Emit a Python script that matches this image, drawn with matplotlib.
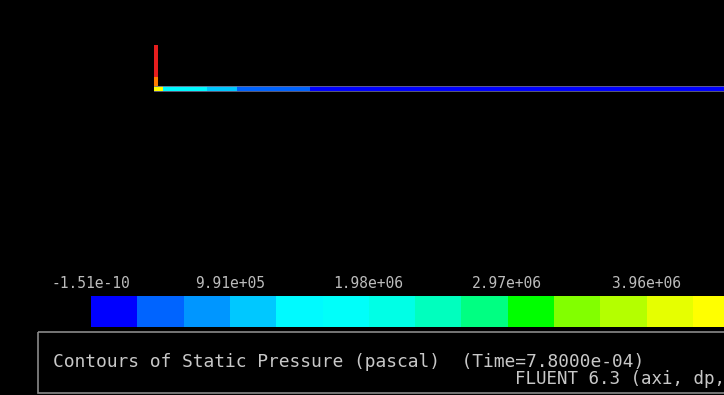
import numpy as np
import matplotlib
matplotlib.use('Agg')
import matplotlib.pyplot as plt
from matplotlib.colors import ListedColormap, BoundaryNorm
from matplotlib.patches import Rectangle

# --- Fluent band colours (20 levels, blue -> red) ---
band_rgb = [
    (0, 0, 255), (0, 100, 255), (0, 150, 255), (0, 200, 255), (0, 250, 255),
    (0, 255, 250), (0, 255, 230), (0, 255, 190), (0, 255, 130), (0, 255, 0),
    (130, 255, 0), (180, 255, 0), (230, 255, 0), (255, 255, 0), (255, 215, 0),
    (255, 170, 0), (255, 125, 0), (255, 80, 0), (255, 40, 0), (230, 30, 30),
]
p_min = 0.0
band_width = 9.91e5 / 3
tick_values = [0.0, 9.91e5, 1.98e6, 2.97e6, 3.96e6]
tick_labels = ['-1.51e-10', '9.91e+05', '1.98e+06', '2.97e+06', '3.96e+06']

# --- pipe geometry (corner at 0) and pressures ---
pipe_x = [-1.5, 8, 52, 82, 155, 569]
pipe_p = [4.45e6, 1.49e6, 1.16e6, 0.50e6, 0.15e6]
pipe_r = [0, 5]
tube_x = [-1.5, 3]
tube_y = [0, 5, 14, 46]
tube_p = [4.45e6, 5.40e6, 6.40e6]

title = 'Contours of Static Pressure (pascal)  (Time=7.8000e-04)'
solver = 'FLUENT 6.3 (axi, dp,'

cmap = ListedColormap(np.array(band_rgb) / 255.0)
levels = p_min + band_width * np.arange(len(band_rgb) + 1)
norm = BoundaryNorm(levels, cmap.N)

W, H = 724, 395
fig = plt.figure(figsize=(W / 100, H / 100), dpi=100, facecolor='black')

# background axes in pixel units for the frame and captions
bg = fig.add_axes([0, 0, 1, 1])
bg.set_xlim(0, W)
bg.set_ylim(H, 0)
bg.axis('off')
bg.add_patch(Rectangle((38, 332), 700, 61, fill=False, edgecolor='#8a8a8a', lw=1.2))
bg.text(53, 362, title, color='#c8c8c8', family='DejaVu Sans Mono', fontsize=12.85,
        ha='left', va='center')
bg.text(515, 379, solver, color='#c8c8c8', family='DejaVu Sans Mono', fontsize=12.6,
        ha='left', va='center')

# geometry axes
geo = fig.add_axes([0, 0, 1, 1])
geo.set_xlim(-155, 569)
geo.set_ylim(-304, 91)
geo.axis('off')
geo.patch.set_alpha(0)
geo.pcolormesh(pipe_x, pipe_r, np.array([pipe_p]), cmap=cmap, norm=norm,
               edgecolor='none')
geo.pcolormesh(tube_x, tube_y, np.array(tube_p)[:, None], cmap=cmap, norm=norm,
               edgecolor='none')
geo.plot([pipe_x[0], pipe_x[-1]], [pipe_r[1], pipe_r[1]], color='#6a6a8a', lw=0.6)
geo.plot([pipe_x[0], pipe_x[-1]], [pipe_r[0], pipe_r[0]], color='#6a6a8a', lw=0.6)

# colour bar (runs off the right edge like the screenshot)
cb_left, cb_top, cb_bottom = 91, 296, 327
x_right = p_min + (W - cb_left) / 46.3 * band_width
cb = fig.add_axes([cb_left / W, 1 - cb_bottom / H, 1 - cb_left / W, (cb_bottom - cb_top) / H])
cb.pcolormesh(levels, [0, 1], ((levels[:-1] + levels[1:]) / 2)[None, :], cmap=cmap, norm=norm)
cb.set_xlim(p_min, x_right)
cb.set_ylim(0, 1)
cb.set_yticks([])
cb.xaxis.tick_top()
cb.set_xticks(tick_values)
cb.set_xticklabels(tick_labels, family='DejaVu Sans Mono', fontsize=10.5, color='#bcbcbc')
cb.tick_params(axis='x', length=0, pad=3.5)
for s in cb.spines.values():
    s.set_visible(False)

fig.savefig('out.png', dpi=100, facecolor='black')
